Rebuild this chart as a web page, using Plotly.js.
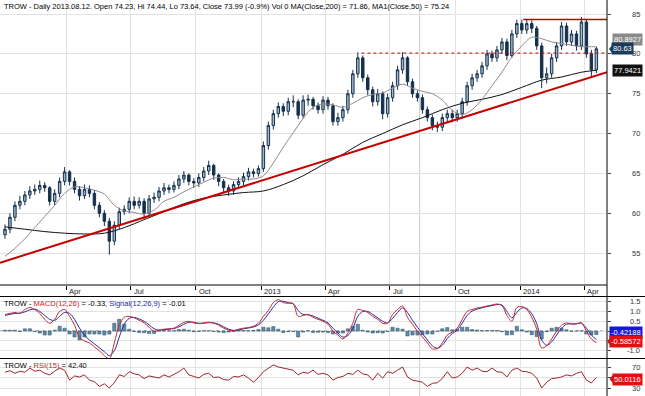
<!DOCTYPE html>
<html><head><meta charset="utf-8">
<script src="https://cdn.plot.ly/plotly-3.0.1.min.js"></script>
<style>html,body{margin:0;padding:0;background:#fff;}#chart{width:645px;height:396px;}</style>
</head><body><div id="chart"></div>
<script>
const dates = [
'2012-01-06','2012-01-13','2012-01-20','2012-01-27','2012-02-03','2012-02-10','2012-02-17','2012-02-24','2012-03-02','2012-03-09',
'2012-03-16','2012-03-23','2012-03-30','2012-04-06','2012-04-13','2012-04-20','2012-04-27','2012-05-04','2012-05-11','2012-05-18',
'2012-05-25','2012-06-01','2012-06-08','2012-06-15','2012-06-22','2012-06-29','2012-07-06','2012-07-13','2012-07-20','2012-07-27',
'2012-08-03','2012-08-10','2012-08-17','2012-08-24','2012-08-31','2012-09-07','2012-09-14','2012-09-21','2012-09-28','2012-10-05',
'2012-10-12','2012-10-19','2012-10-26','2012-11-02','2012-11-09','2012-11-16','2012-11-23','2012-11-30','2012-12-07','2012-12-14',
'2012-12-21','2012-12-28','2013-01-04','2013-01-11','2013-01-18','2013-01-25','2013-02-01','2013-02-08','2013-02-15','2013-02-22',
'2013-03-01','2013-03-08','2013-03-15','2013-03-22','2013-03-29','2013-04-05','2013-04-12','2013-04-19','2013-04-26','2013-05-03',
'2013-05-10','2013-05-17','2013-05-24','2013-05-31','2013-06-07','2013-06-14','2013-06-21','2013-06-28','2013-07-05','2013-07-12',
'2013-07-19','2013-07-26','2013-08-02','2013-08-09','2013-08-16','2013-08-23','2013-08-30','2013-09-06','2013-09-13','2013-09-20',
'2013-09-27','2013-10-04','2013-10-11','2013-10-18','2013-10-25','2013-11-01','2013-11-08','2013-11-15','2013-11-22','2013-11-29',
'2013-12-06','2013-12-13','2013-12-20','2013-12-27','2014-01-03','2014-01-10','2014-01-17','2014-01-24','2014-01-31','2014-02-07',
'2014-02-14','2014-02-21','2014-02-28','2014-03-07','2014-03-14','2014-03-21','2014-03-28','2014-04-04','2014-04-11','2014-04-18'];

const openP = [
57.3,58.0,59.5,61.0,61.5,62.3,62.8,63.0,63.5,63.2, 61.5,62.5,64.0,65.2,64.0,63.0,62.2,63.0,62.5,61.0,
60.0,59.0,56.5,58.5,60.2,60.5,61.5,61.0,61.5,60.0, 61.8,62.0,62.8,63.2,63.0,63.5,64.3,64.8,64.0,63.8,
64.5,65.3,66.0,64.8,64.0,63.2,62.8,63.6,64.0,64.6, 65.2,65.0,65.6,68.5,71.0,72.5,73.4,72.8,74.0,74.0,
72.3,74.2,74.3,73.5,73.0,74.2,73.5,71.5,72.0,73.0, 75.0,77.5,79.5,77.0,75.5,74.0,75.0,72.5,74.5,76.0,
78.0,79.5,76.5,75.0,74.5,73.0,72.0,71.0,70.8,72.0, 72.5,72.0,72.5,74.0,76.0,77.0,77.5,78.5,80.0,79.5,
80.5,81.5,79.8,82.5,83.8,83.0,83.8,83.2,81.0,77.0, 77.5,79.5,81.0,83.5,81.5,82.5,81.0,84.0,80.0,78.0];
const highP = [
58.6,60.0,61.5,62.2,62.8,63.4,63.6,64.1,63.9,63.4, 63.0,64.5,65.8,65.4,64.5,63.4,63.6,63.5,62.9,61.4,
60.4,59.4,59.0,60.7,61.0,62.0,62.1,62.0,61.9,62.3, 62.6,63.3,63.8,63.6,64.0,64.8,65.3,65.0,64.4,65.0,
65.8,66.6,66.2,65.0,64.3,63.6,64.0,64.5,65.1,65.7, 65.6,66.0,69.0,71.5,73.0,73.9,73.8,74.5,74.8,74.3,
74.8,74.9,74.6,73.9,74.7,74.6,73.8,72.6,73.5,75.5, 78.0,80.2,79.8,77.4,75.9,75.6,75.3,75.0,76.5,78.5,
80.2,79.7,76.9,75.4,74.9,73.4,72.4,71.5,72.5,73.0, 73.0,73.0,74.5,76.5,77.5,78.0,79.0,80.5,80.4,81.0,
82.0,81.9,83.0,84.3,84.3,84.3,84.2,83.5,81.4,78.3, 80.0,81.5,84.0,83.9,83.0,82.9,84.6,84.4,80.5,80.9];
const lowP = [
56.8,57.5,59.0,60.5,61.0,61.8,62.3,62.5,62.7,61.0, 61.0,62.0,63.5,63.5,62.5,61.6,61.8,62.0,60.5,59.5,
58.4,54.8,56.0,58.0,59.8,60.0,60.5,60.6,59.3,59.6, 61.3,61.5,62.3,62.5,62.6,63.0,63.8,63.5,63.2,63.3,
64.0,64.8,64.2,63.4,62.6,62.2,62.3,63.1,63.5,64.1, 64.5,64.6,65.2,68.0,70.5,72.0,72.2,72.3,73.3,71.8,
71.9,73.5,73.0,72.5,72.5,73.0,71.0,71.0,71.5,72.5, 74.5,77.0,76.5,74.8,73.4,73.5,71.8,72.0,74.0,75.5,
77.5,76.0,74.5,74.0,72.5,71.5,70.4,70.2,70.3,71.5, 71.4,71.5,72.0,73.5,75.5,76.5,77.0,78.0,79.0,79.0,
80.0,79.2,79.5,82.0,82.5,82.5,82.6,80.5,75.7,76.3, 77.0,79.0,80.5,81.0,81.0,80.4,80.5,79.5,77.0,77.6];
const closeP = [
58.0,59.5,61.0,61.5,62.3,62.8,63.0,63.5,63.2,61.5, 62.5,64.0,65.2,64.0,63.0,62.2,63.0,62.5,61.0,60.0,
59.0,56.5,58.5,60.2,60.5,61.5,61.0,61.5,60.0,61.8, 62.0,62.8,63.2,63.0,63.5,64.3,64.8,64.0,63.8,64.5,
65.3,66.0,64.8,64.0,63.2,62.8,63.6,64.0,64.6,65.2, 65.0,65.6,68.5,71.0,72.5,73.4,72.8,74.0,74.0,72.3,
74.2,74.3,73.5,73.0,74.2,73.5,71.5,72.0,73.0,75.0, 77.5,79.5,77.0,75.5,74.0,75.0,72.5,74.5,76.0,78.0,
79.5,76.5,75.0,74.5,73.0,72.0,71.0,70.8,72.0,72.5, 72.0,72.5,74.0,76.0,77.0,77.5,78.5,80.0,79.5,80.5,
81.5,79.8,82.5,83.8,83.0,83.8,83.2,81.0,77.0,77.5, 79.5,81.0,83.5,81.5,82.5,81.0,84.0,80.0,78.0,80.63];

const ma50Idx = [0,2,4,6,8,10,12,14,16,18,20,22,24,26,28,30,32,34,36,38,40,42,44,46,48,50,52,54,56,58,
60,62,64,66,68,70,72,74,76,78,80,82,84,86,88,90,92,94,96,98,100,102,104,106,108,110,112,114,116,118,119];
const ma50 = [54.6,55.6,56.8,58.2,59.6,61.0,62.5,63.3,63.2,62.9,62.4,61.0,60.3,60.1,59.9,60.4,61.5,62.0,62.7,63.3,
63.9,64.4,64.5,64.2,64.3,64.3,64.7,66.3,68.3,70.1,71.9,73.3,73.7,73.6,73.3,73.8,74.5,74.9,75.1,75.7,
76.2,75.7,75.3,75.0,74.2,72.9,72.4,73.0,74.3,76.0,77.7,79.6,81.0,82.1,81.9,81.5,81.3,81.1,80.9,80.9,80.89];

const ma200Idx = [0,4,8,12,16,20,24,28,32,36,40,44,48,52,56,60,64,68,72,76,80,84,88,92,96,100,104,108,112,116,119];
const ma200 = [58.3,58.0,57.7,57.5,57.4,57.5,58.2,59.2,60.2,61.2,61.9,62.3,62.6,62.8,63.6,64.7,66.1,67.4,68.9,70.0,
71.1,72.0,73.0,73.8,74.3,74.9,75.8,76.7,77.1,77.7,77.94];

const macd = [
0.85,0.9,0.95,0.9,1.1,1.2,1.1,0.9,0.6,0.4, 0.6,1.0,1.1,0.75,0.3,-0.3,-0.5,-0.6,-0.8,-1.0,
-1.25,-1.4,-0.6,0.3,0.7,0.75,0.68,0.55,0.42,0.2, 0.0,0.05,0.1,0.12,0.15,0.3,0.45,0.5,0.42,0.38,
0.42,0.45,0.4,0.3,0.15,0.05,0.02,0.1,0.15,0.18, 0.25,0.4,0.75,1.05,1.45,1.6,1.45,1.42,1.38,0.75,
0.8,0.85,0.7,0.6,0.5,0.35,0.0,-0.2,-0.4,-0.1, 0.4,1.1,1.05,0.95,0.75,0.6,0.4,0.4,0.85,1.1,
1.28,0.7,0.35,0.0,-0.3,-0.6,-0.9,-0.88,-0.6,-0.2, -0.05,0.15,0.6,1.0,1.1,1.18,1.22,1.28,1.33,1.38,
1.3,0.8,0.5,1.2,1.25,1.1,0.7,0.1,-0.85,-0.75, -0.4,0.0,0.3,0.42,0.36,0.38,0.42,0.0,-0.4,-0.59];
const signal = [
0.8,0.85,0.9,0.92,0.98,1.08,1.12,1.0,0.8,0.6, 0.55,0.75,0.95,0.9,0.6,0.15,-0.2,-0.45,-0.65,-0.85,
-1.05,-1.25,-1.0,-0.3,0.35,0.65,0.7,0.62,0.5,0.32, 0.12,0.05,0.07,0.1,0.13,0.22,0.35,0.45,0.45,0.4,
0.4,0.43,0.42,0.35,0.22,0.1,0.04,0.06,0.12,0.16, 0.21,0.32,0.55,0.88,1.22,1.5,1.52,1.45,1.4,1.05,
0.85,0.83,0.77,0.66,0.55,0.42,0.15,-0.1,-0.3,-0.22, 0.15,0.75,1.0,1.0,0.85,0.68,0.5,0.42,0.65,0.95,
1.18,0.95,0.55,0.2,-0.12,-0.45,-0.75,-0.87,-0.72,-0.38, -0.12,0.05,0.4,0.8,1.02,1.12,1.19,1.25,1.3,1.35,
1.33,1.0,0.68,0.95,1.18,1.15,0.88,0.38,-0.45,-0.72, -0.55,-0.2,0.15,0.35,0.37,0.37,0.4,0.15,-0.2,-0.42];
const hist = [
0.05,0.05,0.05,-0.02,0.12,0.12,-0.02,-0.1,-0.2,-0.2, 0.05,0.25,0.15,-0.15,-0.3,-0.45,-0.3,-0.15,-0.15,-0.15,
-0.2,-0.15,0.4,0.6,0.35,0.1,-0.02,-0.07,-0.08,-0.12, -0.12,0.0,0.03,0.02,0.02,0.08,0.1,0.05,-0.03,-0.02,
0.02,0.02,-0.02,-0.05,-0.07,-0.05,-0.02,0.04,0.03,0.02, 0.04,0.08,0.2,0.17,0.23,0.1,-0.07,-0.03,-0.02,-0.3,
-0.05,0.02,-0.07,-0.06,-0.05,-0.07,-0.15,-0.1,-0.1,0.12, 0.25,0.35,0.05,-0.05,-0.1,-0.08,-0.1,-0.02,0.2,0.15,
0.1,-0.25,-0.2,-0.2,-0.18,-0.15,-0.15,-0.01,0.12,0.18, 0.07,0.1,0.2,0.2,0.08,0.06,0.03,0.03,0.03,0.03,
-0.03,-0.2,-0.18,0.25,0.07,-0.05,-0.18,-0.28,-0.4,-0.03, 0.15,0.2,0.15,0.07,-0.01,0.01,0.02,-0.15,-0.2,-0.17];
const rsi = [
60,63,58,62,60,68,62,64,58,55, 62,68,64,45,53,51,55,45,42,33,
38,30,40,55,52,61,57,55,48,53, 51,49,55,51,56,61,68,55,52,49,
56,58,50,51,46,45,52,51,55,49, 41,50,61,68,74,70,68,66,64,55,
60,58,64,56,58,55,45,50,52,58, 56,64,57,55,45,58,49,61,58,64,
70,51,45,43,41,33,39,40,48,61, 49,51,58,70,64,68,62,61,68,61,
60,51,64,68,62,61,58,49,30,41, 48,49,51,55,53,58,61,45,39.5,50];

const trendDates = ['2011-12-30','2014-05-03'], trendVals = [53.8,77.7];
const resistDates = ['2014-01-05','2014-05-03'], resistVals = [84.3,84.3];
const dotDates = ['2013-05-22','2014-05-03'], dotVals = [80.1,80.1];
const cursorDate = '2013-08-12';

const qTicks = ['2012-04-01','2012-07-01','2012-10-01','2013-01-01','2013-04-01','2013-07-01','2013-10-01','2014-01-01','2014-04-01'];
const qLabels = ['Apr','Jul','Oct','2013','Apr','Jul','Oct','2014','Apr'];
const priceTicks = [55,60,65,70,75,80,85];
const macdGrid = [1.5,1.0,0.5,0,-0.5,-1.0];
const macdTicks = [1.5,1.0,0.5,-1.0], macdTickText = ['1.5','1.0','0.5','-1.0'];
const rsiTicks = [70,30];

const titleText = 'TROW - Daily 2013.08.12. Open 74.23, Hi 74.44, Lo 73.64, Close 73.99 (-0.9%) Vol 0 MA(Close,200) = 71.86, MA1(Close,50) = 75.24';
const macdHeader = 'TROW - <span style="color:#c41e1e">MACD(12,26)</span> = -0.33, <span style="color:#2a2aa8">Signal(12,26,9)</span> = -0.01';
const rsiHeader = 'TROW - <span style="color:#c41e1e">RSI(15)</span> = 42.40';
const boxLabels = [
  {t:'80.8927', py:40, bg:'#8a8a8a', right:643, arrow:false},
  {t:'80.63', py:49, bg:'#1c3a5a', right:634, arrow:true, left:613},
  {t:'77.9421', py:70.5, bg:'#111111', right:643, arrow:false},
  {t:'-0.42188', py:332, bg:'#1515e6', right:643, arrow:false},
  {t:'-0.58572', py:341.5, bg:'#e01010', right:643, arrow:true, left:611},
  {t:'50.0116', py:379, bg:'#e01010', right:643, arrow:true, left:613.5}
];

const W = 645, H = 396, PW = 607;
const py = p => 1 - p/H;
const pxp = p => p/PW;
const FONT = 'Liberation Sans, Arial, sans-serif';

const traces = [
  {type:'candlestick', x:dates, open:openP, high:highP, low:lowP, close:closeP, xaxis:'x', yaxis:'y',
   increasing:{line:{color:'#15304d', width:1}, fillcolor:'#9fb9d1'},
   decreasing:{line:{color:'#15304d', width:1}, fillcolor:'#15304d'},
   whiskerwidth:0, hoverinfo:'none'},
  {type:'scatter', mode:'lines', x:ma200Idx.map(i=>dates[i]), y:ma200, line:{color:'#111', width:1, shape:'spline'}, yaxis:'y', hoverinfo:'none'},
  {type:'scatter', mode:'lines', x:ma50Idx.map(i=>dates[i]), y:ma50, line:{color:'#8c8c8c', width:1, shape:'spline'}, yaxis:'y', hoverinfo:'none'},
  {type:'scatter', mode:'lines', x:trendDates, y:trendVals, line:{color:'#c40000', width:2}, yaxis:'y', hoverinfo:'none'},
  {type:'scatter', mode:'lines', x:resistDates, y:resistVals, line:{color:'#c40000', width:1.5}, yaxis:'y', hoverinfo:'none'},
  {type:'scatter', mode:'lines', x:dotDates, y:dotVals, line:{color:'#c40000', width:1, dash:'dot'}, yaxis:'y', hoverinfo:'none'},
  {type:'bar', x:dates, y:hist, yaxis:'y2', marker:{color:'#5f8ca8', line:{color:'#2d4f66', width:0.5}}, hoverinfo:'none'},
  {type:'scatter', mode:'lines', x:dates, y:signal, yaxis:'y2', line:{color:'#2a2aa8', width:1, shape:'spline'}, hoverinfo:'none'},
  {type:'scatter', mode:'lines', x:dates, y:macd, yaxis:'y2', line:{color:'#c82828', width:1, shape:'spline'}, hoverinfo:'none'},
  {type:'scatter', mode:'lines', x:dates, y:rsi, yaxis:'y3', line:{color:'#a0242a', width:1}, hoverinfo:'none'}
];

const annotations = [];
annotations.push({xref:'paper', yref:'paper', x:pxp(2), y:py(0), xanchor:'left', yanchor:'top', text:titleText, showarrow:false, font:{family:FONT, size:7.5, color:'#000'}});
annotations.push({xref:'paper', yref:'paper', x:pxp(2), y:py(297), xanchor:'left', yanchor:'top', text:macdHeader, showarrow:false, font:{family:FONT, size:7.5, color:'#000'}});
annotations.push({xref:'paper', yref:'paper', x:pxp(2), y:py(359), xanchor:'left', yanchor:'top', text:rsiHeader, showarrow:false, font:{family:FONT, size:7.5, color:'#000'}});
qTicks.forEach((d,i)=>annotations.push({xref:'x', yref:'paper', x:d, y:py(291), xanchor:'left', yanchor:'middle', xshift:1, text:qLabels[i], showarrow:false, font:{family:FONT, size:7.5, color:'#222'}}));
priceTicks.forEach(v=>annotations.push({xref:'paper', yref:'y', x:pxp(642), y:v, xanchor:'right', yanchor:'middle', text:String(v), showarrow:false, font:{family:FONT, size:7.5, color:'#333'}}));
macdTicks.forEach((v,i)=>annotations.push({xref:'paper', yref:'y2', x:pxp(642), y:v, xanchor:'right', yanchor:'middle', text:macdTickText[i], showarrow:false, font:{family:FONT, size:7.5, color:'#333'}}));
rsiTicks.forEach(v=>annotations.push({xref:'paper', yref:'y3', x:pxp(642), y:v, xanchor:'right', yanchor:'middle', text:String(v), showarrow:false, font:{family:FONT, size:7.5, color:'#333'}}));
boxLabels.forEach(b=>annotations.push({xref:'paper', yref:'paper', x:pxp(b.right), y:py(b.py), xanchor:'right', yanchor:'middle', text:b.t, showarrow:false, bgcolor:b.bg, borderpad:1, font:{family:FONT, size:7.5, color:'#fff'}}));

const shapes = [
  {type:'line', xref:'x', yref:'paper', x0:cursorDate, x1:cursorDate, y0:0, y1:py(8), line:{color:'#cccccc', width:1}, layer:'below'},
  {type:'line', xref:'paper', yref:'y2', x0:0, x1:1, y0:0, y1:0, line:{color:'#555', width:1, dash:'dot'}, layer:'below'},
  {type:'line', xref:'paper', yref:'paper', x0:1, x1:1, y0:0, y1:1, line:{color:'#000', width:1}},
  {type:'line', xref:'paper', yref:'paper', x0:0, x1:1, y0:py(285), y1:py(285), line:{color:'#000', width:1}},
  {type:'line', xref:'paper', yref:'paper', x0:0, x1:W/PW, y0:py(296.5), y1:py(296.5), line:{color:'#000', width:1}},
  {type:'line', xref:'paper', yref:'paper', x0:0, x1:W/PW, y0:py(358.5), y1:py(358.5), line:{color:'#000', width:1}}
];
boxLabels.filter(b=>b.arrow).forEach(b=>shapes.push({type:'path', xref:'paper', yref:'paper',
  path:'M '+pxp(b.left+0.5)+','+py(b.py-5.5)+' L '+pxp(b.left-4)+','+py(b.py)+' L '+pxp(b.left+0.5)+','+py(b.py+5.5)+' Z',
  fillcolor:b.bg, line:{width:0}}));

const grid = '#e2e2e2';
const layout = {
  width:W, height:H, margin:{l:0, r:W-PW, t:0, b:0}, paper_bgcolor:'#fff', plot_bgcolor:'#fff',
  showlegend:false, bargap:0.35, font:{family:FONT},
  xaxis:{type:'date', range:['2011-12-30','2014-05-03'], tickvals:qTicks, showticklabels:false, ticks:'outside', ticklen:4, tickcolor:'#000',
         showgrid:true, gridcolor:grid, zeroline:false, showline:false, anchor:'y', rangeslider:{visible:false}, fixedrange:true},
  yaxis:{domain:[py(285), 1], range:[51.0, 86.76], side:'right', tickvals:priceTicks, showticklabels:false, ticks:'outside', ticklen:3, tickcolor:'#444',
         showgrid:true, gridcolor:grid, zeroline:false, showline:false, fixedrange:true},
  yaxis2:{domain:[py(358.5), py(296.5)], range:[-1.394, 1.763], side:'right', anchor:'x', tickvals:macdGrid, showticklabels:false, ticks:'outside', ticklen:3, tickcolor:'#444',
         showgrid:true, gridcolor:grid, zeroline:false, showline:false, fixedrange:true},
  yaxis3:{domain:[0, py(358.5)], range:[14.8, 86.2], side:'right', anchor:'x', tickvals:[70,50,30], showticklabels:false, ticks:'outside', ticklen:3, tickcolor:'#444',
         showgrid:true, gridcolor:grid, zeroline:false, showline:false, fixedrange:true},
  annotations:annotations, shapes:shapes
};

Plotly.newPlot('chart', traces, layout, {staticPlot:true, displayModeBar:false});
</script></body></html>
